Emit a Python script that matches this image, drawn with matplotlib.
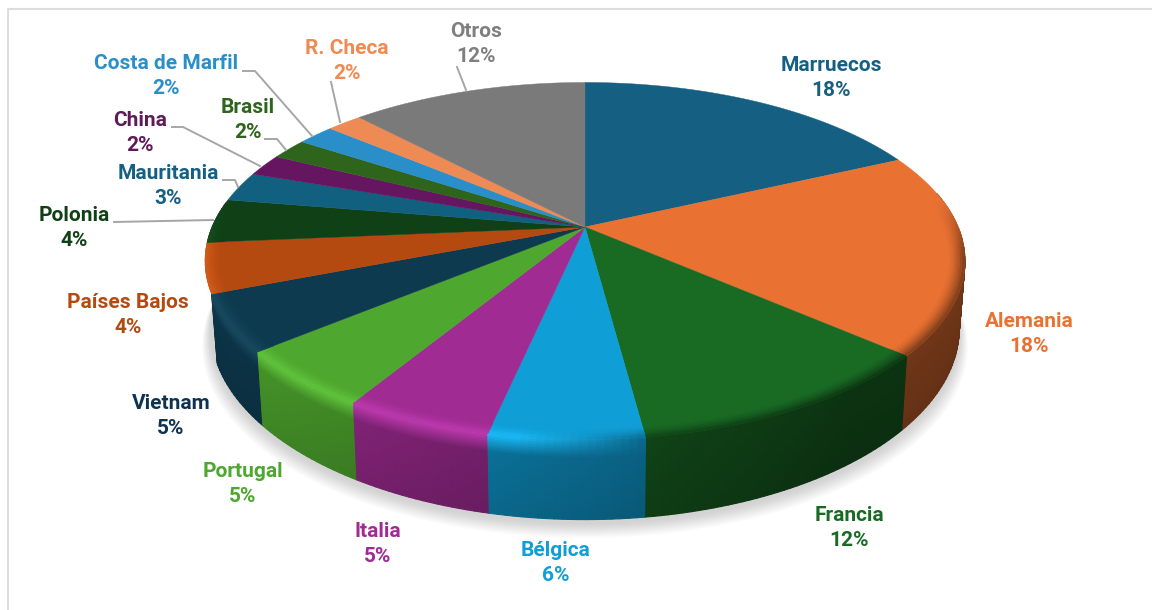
import numpy as np
import matplotlib
matplotlib.use("Agg")
import matplotlib.pyplot as plt
from matplotlib.collections import PolyCollection
from matplotlib.colors import to_rgb

plt.rcParams['font.family'] = ['Roboto', 'DejaVu Sans']

# Datos (los porcentajes de las etiquetas van redondeados)
paises = ["Marruecos", "Alemania", "Francia", "Bélgica", "Italia", "Portugal", "Vietnam", "Países Bajos",
          "Polonia", "Mauritania", "China", "Brasil", "Costa de Marfil", "R. Checa", "Otros"]
valores = [18.1, 18.3, 11.5, 5.5, 5.3, 5.3, 5.1, 4.5, 4.0, 2.7, 2.0, 1.9, 1.9, 1.8, 12.1]
etiquetas = ["18%", "18%", "12%", "6%", "5%", "5%", "5%", "4%", "4%", "3%", "2%", "2%", "2%", "2%", "12%"]

colores = ["#156082", "#E97132", "#196B24", "#0F9ED5", "#A02B93", "#4EA72E", "#0D3A4E", "#B54A10",
           "#0F4016", "#12607F", "#661560", "#2F641C", "#2A8FC9", "#EE8B55", "#7A7A7A"]
colores_texto = ["#156082", "#E97132", "#196B24", "#0F9ED5", "#A02B93", "#4EA72E", "#0E3350", "#B54A10",
                 "#0F4016", "#156082", "#601A58", "#2F641C", "#2A8FC9", "#F08A50", "#7F7F7F"]

# Posicion de cada etiqueta en pixeles
pos_x = [831, 1029, 849, 556, 378, 243, 171, 128, 74, 168, 140, 248, 166, 347, 476]
pos_y = [78, 334, 528, 563, 544, 484, 416, 315, 228, 186, 133, 120, 76, 61, 44]

# Lineas guia
guias = [
    [(243, 71), (255, 71), (312, 136)],
    [(172, 127), (183, 127), (260, 166)],
    [(265, 139), (277, 139), (286, 150)],
    [(223, 180), (235, 180), (238, 187)],
    [(114, 222), (213, 220)],
    [(331, 82), (340, 122)],
    [(457, 67), (466, 90)],
]

# Geometria de la tarta en perspectiva
CX, CY = 585, 227
RX, RY = 373, 172
K = 0.19
ALTO = 65
BISEL = 0.955
ULTIMA_PARED = 6  # a partir de Paises Bajos la pared no se ve


def proyectar(t, r=1.0, z=0.0):
    x = r * np.sin(t)
    y = r * np.cos(t)
    den = 1 + K * y
    sx = CX + RX * x / den * (1 - 0.015 * z)
    sy = CY - RY * y / den + ALTO * z / den
    return sx, sy


def color_pared(base, t):
    s = np.clip(0.66 - 0.3 * np.sin(t), 0.48, 0.92)
    return base * s


def color_borde(base, t):
    w = np.clip((0.15 - np.sin(t)) / 0.3, 0, 1)
    claro = np.clip(base * 1.12 + 0.04, 0, 1)
    return w * claro + (1 - w) * color_pared(base, t)


fig = plt.figure(figsize=(11.52, 6.10), dpi=100)
ax = fig.add_axes([0, 0, 1, 1])
ax.set_xlim(0, 1152)
ax.set_ylim(610, 0)
ax.axis("off")

# Marco
ax.plot([8, 8, 1152], [610, 9, 9], color="#DDDDDD", lw=1.5, zorder=1)

# Sombra bajo la tarta
tt = np.linspace(0, 2 * np.pi, 361)
bx, by = proyectar(tt, 1.0, 1.0)
for s in np.linspace(16, 0, 16):
    fx = CX + (bx - CX) * (1 + s / 700)
    fy = by + 4 + s * 0.9
    ax.fill(fx, fy, color="#777777", alpha=0.02, lw=0, zorder=2)

limites = np.radians(np.cumsum([0] + valores) * 3.6)

# Pared lateral: de atras hacia delante para que tape bien
tiras = []
zs = np.linspace(0, 1, 41)
for i in range(ULTIMA_PARED + 1):
    base = np.array(to_rgb(colores[i]))
    n = max(int(np.degrees(limites[i + 1] - limites[i])), 2)
    angs = np.linspace(limites[i], limites[i + 1], n + 1)
    for a0, a1 in zip(angs[:-1], angs[1:]):
        am = (a0 + a1) / 2
        if np.cos(am) > 0.2:
            continue
        for z0, z1 in zip(zs[:-1], zs[1:]):
            x00, y00 = proyectar(a0, 1.0, z0)
            x10, y10 = proyectar(a1, 1.0, z0)
            x11, y11 = proyectar(a1, 1.0, z1)
            x01, y01 = proyectar(a0, 1.0, z1)
            u = min(z0 / 0.22, 1)
            c = (1 - u) * color_borde(base, am) + u * color_pared(base, am)
            tiras.append((-np.cos(am), [(x00, y00), (x10, y10), (x11, y11), (x01, y01)],
                          np.clip(c * (1 - 0.1 * z0), 0, 1)))
tiras.sort(key=lambda t: t[0])
polys = [t[1] for t in tiras]
caras = [t[2] for t in tiras]
ax.add_collection(PolyCollection(polys, facecolors=caras, edgecolors=caras, linewidths=0.8, zorder=3))

# Cara superior
for i in range(len(valores)):
    angs = np.linspace(limites[i], limites[i + 1], 80)
    sx, sy = proyectar(angs)
    ax.fill(np.r_[CX, sx], np.r_[CY, sy], color=colores[i], lw=0.3, zorder=4)

# Bisel del borde
polys = []
caras = []
rs = np.linspace(BISEL, 1, 9)
for i in range(len(valores)):
    base = np.array(to_rgb(colores[i]))
    n = max(int(np.degrees(limites[i + 1] - limites[i])), 2)
    angs = np.linspace(limites[i], limites[i + 1], n + 1)
    for a0, a1 in zip(angs[:-1], angs[1:]):
        am = (a0 + a1) / 2
        f = np.clip((0.15 - np.cos(am)) / 0.3, 0, 1)
        if f == 0:
            continue
        for r0, r1 in zip(rs[:-1], rs[1:]):
            x00, y00 = proyectar(a0, r0)
            x10, y10 = proyectar(a1, r0)
            x11, y11 = proyectar(a1, r1)
            x01, y01 = proyectar(a0, r1)
            polys.append([(x00, y00), (x10, y10), (x11, y11), (x01, y01)])
            u = ((r0 - BISEL) / (1 - BISEL)) ** 1.5 * f
            caras.append((1 - u) * base + u * color_borde(base, am))
ax.add_collection(PolyCollection(polys, facecolors=caras, edgecolors=caras, linewidths=0.5, zorder=5))

# Lineas guia y etiquetas
for g in guias:
    xs, ys = zip(*g)
    ax.plot(xs, ys, color="#A6A6A6", lw=1.4, zorder=6)

for i in range(len(paises)):
    ax.text(pos_x[i], pos_y[i], paises[i] + "\n" + etiquetas[i], color=colores_texto[i], fontsize=15,
            fontweight="bold", ha="center", va="center", linespacing=1.38, zorder=7)

fig.savefig("out.png", dpi=100)
